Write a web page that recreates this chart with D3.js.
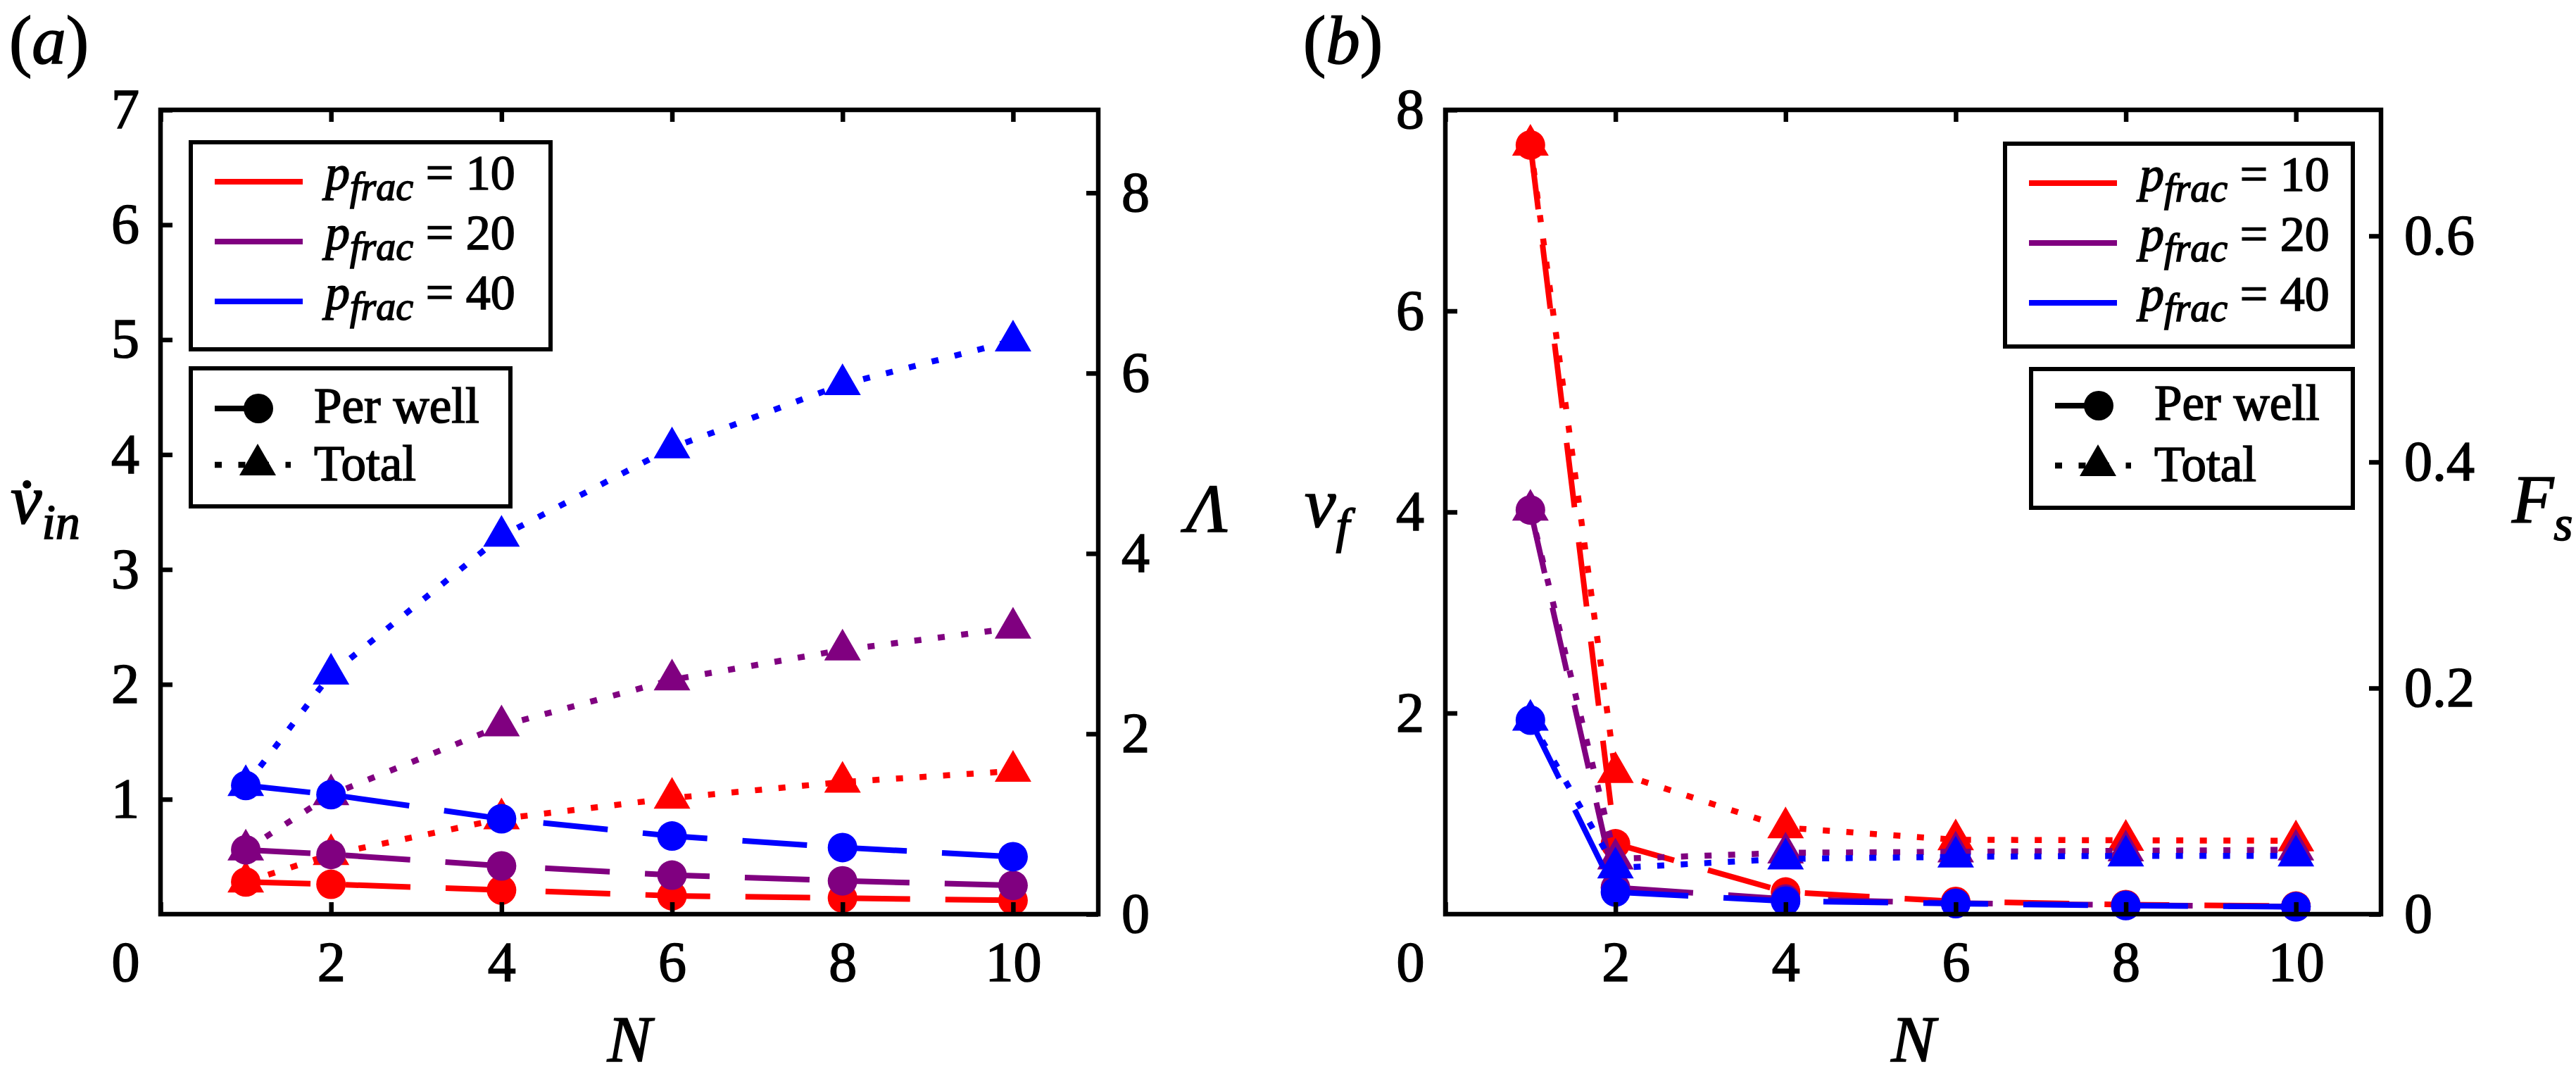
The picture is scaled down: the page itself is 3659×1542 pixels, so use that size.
<!DOCTYPE html>
<html>
<head>
<meta charset="utf-8">
<script src="https://cdn.jsdelivr.net/npm/d3@7"></script>
<style>
  body { margin: 0; background: #fff; }
  svg text { font-family: "Liberation Serif", "DejaVu Serif", serif !important; stroke: #000; stroke-width: 1.6px; }
</style>
</head>
<body>
<script>
var width = 3659
var height = 1542
var serif = '"Liberation Serif", "DejaVu Serif", serif'

// ---- data ----
var N = [1, 2, 4, 6, 8, 10]
var pfrac = [10, 20, 40]
var xTicks = [0, 2, 4, 6, 8, 10]

// (a) injection rate, per well and total
var vinPerWell10 = [0.28, 0.26, 0.21, 0.16, 0.14, 0.12]
var vinPerWell20 = [0.56, 0.52, 0.42, 0.34, 0.29, 0.25]
var vinPerWell40 = [1.12, 1.04, 0.83, 0.68, 0.58, 0.50]
var vinTotal10 = [0.28, 0.52, 0.83, 1.01, 1.15, 1.245]
var vinTotal20 = [0.56, 1.04, 1.64, 2.04, 2.30, 2.49]
var vinTotal40 = [1.12, 2.09, 3.29, 4.06, 4.61, 4.99]
var vinTicks = [1, 2, 3, 4, 5, 6, 7]
var lambdaTicks = [0, 2, 4, 6, 8]

// (b) fracture velocity, per well and total
var vfPerWell10 = [7.65, 0.70, 0.22, 0.126, 0.095, 0.08]
var vfPerWell20 = [4.02, 0.265, 0.15, 0.11, 0.09, 0.075]
var vfPerWell40 = [1.93, 0.22, 0.13, 0.105, 0.085, 0.073]
var vfTotal10 = [7.65, 1.41, 0.86, 0.74, 0.735, 0.73]
var vfTotal20 = [4.02, 0.55, 0.61, 0.62, 0.63, 0.64]
var vfTotal40 = [1.93, 0.46, 0.55, 0.57, 0.58, 0.58]
var vfTicks = [2, 4, 6, 8]
var fsTicks = [0, 0.2, 0.4, 0.6]

var colors = ["#ff0000", "#800080", "#0000ff"]

var top_ = 156
var bottom_ = 1298

var svg = d3.select("body")
            .append("svg")
            .attr("width", width)
            .attr("height", height)
            .style("font-family", serif)

// triangle marker, data point at its centroid
var triPath = "M0,-30L26,15L-26,15Z"

function styleAxis(sel, fontSize) {
  sel.attr("font-family", null).attr("font-size", null)
  sel.select(".domain").remove()
  sel.selectAll(".tick line").attr("stroke", "#000").attr("stroke-width", 6.5)
  sel.selectAll(".tick text")
     .attr("fill", "#000")
     .style("font-family", serif)
     .style("font-size", fontSize + "px")
}

function drawPanel(p) {
  var x = d3.scaleLinear().domain([0, 11]).range([p.left, p.right])
  var y = d3.scaleLinear().domain([0, p.yMax]).range([bottom_, top_])
  var y2 = d3.scaleLinear().domain([0, p.y2Max]).range([bottom_, top_])

  var g = svg.append("g")
  var line = d3.line().x(function(d){ return x(d[0]) }).y(function(d){ return y(d[1]) })

  // series, drawn red -> purple -> blue
  p.perWell.forEach(function(vals, i){
    var pw = N.map(function(n, j){ return [n, vals[j]] })
    var tot = N.map(function(n, j){ return [n, p.total[i][j]] })

    g.append("path")
      .attr("d", line(pw))
      .attr("fill", "none")
      .attr("stroke", colors[i])
      .attr("stroke-width", 8)
      .attr("stroke-dasharray", "92,50")
    g.selectAll(null)
      .data(pw)
      .enter()
      .append("circle")
      .attr("cx", function(d){ return x(d[0]) })
      .attr("cy", function(d){ return y(d[1]) })
      .attr("r", 21)
      .attr("fill", colors[i])

    g.append("path")
      .attr("d", line(tot))
      .attr("fill", "none")
      .attr("stroke", colors[i])
      .attr("stroke-width", 8.5)
      .attr("stroke-dasharray", "10,23.5")
    g.selectAll(null)
      .data(tot)
      .enter()
      .append("path")
      .attr("d", triPath)
      .attr("transform", function(d){ return "translate(" + x(d[0]) + "," + y(d[1]) + ")" })
      .attr("fill", colors[i])
  })

  // axes, ticks pointing inward
  var bx = g.append("g")
    .attr("transform", "translate(0," + bottom_ + ")")
    .call(d3.axisBottom(x).tickValues(xTicks).tickSizeInner(-17).tickSizeOuter(0)
            .tickPadding(38).tickFormat(d3.format("d")))
  styleAxis(bx, 80)
  bx.selectAll(".tick").filter(function(d){ return d === 0 }).select("text")
    .attr("x", -30).attr("text-anchor", "end")

  var tx = g.append("g")
    .attr("transform", "translate(0," + top_ + ")")
    .call(d3.axisTop(x).tickValues(xTicks).tickSizeInner(-17).tickSizeOuter(0).tickFormat(""))
  styleAxis(tx, 80)

  var ly = g.append("g")
    .attr("transform", "translate(" + p.left + ",0)")
    .call(d3.axisLeft(y).tickValues(p.leftTicks).tickSizeInner(-17).tickSizeOuter(0)
            .tickPadding(30).tickFormat(d3.format("d")))
  styleAxis(ly, 80)

  var ry = g.append("g")
    .attr("transform", "translate(" + p.right + ",0)")
    .call(d3.axisRight(y2).tickValues(p.rightTicks).tickSizeInner(-17).tickSizeOuter(0)
            .tickPadding(33).tickFormat(p.rightFormat))
  styleAxis(ry, 80)

  g.append("rect")
    .attr("x", p.left).attr("y", top_)
    .attr("width", p.right - p.left).attr("height", bottom_ - top_)
    .attr("fill", "none").attr("stroke", "#000").attr("stroke-width", 6.5)

  // labels
  var lab = g.append("text").attr("x", p.tag).attr("y", 90).attr("font-size", 97)
  lab.append("tspan").text("(")
  lab.append("tspan").style("font-style", "italic").text(p.tagText)
  lab.append("tspan").text(")")

  g.append("text")
    .attr("x", (p.left + p.right) / 2).attr("y", 1507)
    .attr("text-anchor", "middle").attr("font-size", 94)
    .style("font-style", "italic").text("N")

  var yl = g.append("text").attr("x", p.yLabel.x).attr("y", p.yLabel.y)
    .attr("font-size", 100).style("font-style", "italic")
  yl.append("tspan").text(p.yLabel.main)
  yl.append("tspan").attr("font-size", 70).attr("dy", 22).text(p.yLabel.sub)

  var y2l = g.append("text").attr("x", p.y2Label.x).attr("y", p.y2Label.y)
    .attr("font-size", 97).style("font-style", "italic")
  y2l.append("tspan").text(p.y2Label.main)
  if (p.y2Label.sub) y2l.append("tspan").attr("font-size", 70).attr("dy", 25).text(p.y2Label.sub)

  // legend 1: colours
  var L1 = p.legend1
  g.append("rect")
    .attr("x", L1.x).attr("y", L1.y).attr("width", L1.w).attr("height", L1.h)
    .attr("fill", "#fff").attr("stroke", "#000").attr("stroke-width", 6)
  pfrac.forEach(function(v, i){
    var cy = L1.y + 56 + i * 85
    g.append("line")
      .attr("x1", L1.x + 34).attr("x2", L1.x + 159)
      .attr("y1", cy).attr("y2", cy)
      .attr("stroke", colors[i]).attr("stroke-width", 8)
    var t = g.append("text").attr("x", L1.x + 191).attr("y", cy + 11).attr("font-size", 70)
    t.append("tspan").style("font-style", "italic").text("p")
    t.append("tspan").style("font-style", "italic").attr("font-size", 56).attr("dy", 15).text("frac")
    t.append("tspan").attr("dy", -15).text(" = " + v)
  })

  // legend 2: line styles
  var L2 = p.legend2
  g.append("rect")
    .attr("x", L2.x).attr("y", L2.y).attr("width", L2.w).attr("height", L2.h)
    .attr("fill", "#fff").attr("stroke", "#000").attr("stroke-width", 6)
  var c1 = L2.y + L2.r1
  var c2 = L2.y + 137
  g.append("line")
    .attr("x1", L2.x + 34).attr("x2", L2.x + 96)
    .attr("y1", c1).attr("y2", c1)
    .attr("stroke", "#000").attr("stroke-width", 8)
  g.append("circle").attr("cx", L2.x + 96).attr("cy", c1).attr("r", 21).attr("fill", "#000")
  g.append("text").attr("x", L2.x + 175).attr("y", c1 + 20).attr("font-size", 71).text("Per well")
  g.append("line")
    .attr("x1", L2.x + 34).attr("x2", L2.x + 142)
    .attr("y1", c2).attr("y2", c2)
    .attr("stroke", "#000").attr("stroke-width", 8.5).attr("stroke-dasharray", "10,23.5")
  g.append("path").attr("d", triPath)
    .attr("transform", "translate(" + (L2.x + 95) + "," + c2 + ")")
    .attr("fill", "#000")
  g.append("text").attr("x", L2.x + 175).attr("y", c2 + 22).attr("font-size", 71).text("Total")
}

drawPanel({
  left: 228, right: 1560,
  yMax: 7, y2Max: 8.92,
  perWell: [vinPerWell10, vinPerWell20, vinPerWell40],
  total: [vinTotal10, vinTotal20, vinTotal40],
  leftTicks: vinTicks, rightTicks: lambdaTicks,
  rightFormat: d3.format("d"),
  tag: 13, tagText: "a",
  yLabel: { x: 15, y: 743, main: "v\u0307", sub: "in" },
  y2Label: { x: 1685, y: 755, main: "\u039B", sub: "" },
  legend1: { x: 271, y: 202, w: 511, h: 294 },
  legend2: { x: 271, y: 523, w: 454, h: 196, r1: 57 }
})

drawPanel({
  left: 2053, right: 3382,
  yMax: 8, y2Max: 0.7115,
  perWell: [vfPerWell10, vfPerWell20, vfPerWell40],
  total: [vfTotal10, vfTotal20, vfTotal40],
  leftTicks: vfTicks, rightTicks: fsTicks,
  rightFormat: function(v){ return v === 0 ? "0" : d3.format(".1f")(v) },
  tag: 1851, tagText: "b",
  yLabel: { x: 1853, y: 748, main: "v", sub: "f" },
  y2Label: { x: 3568, y: 742, main: "F", sub: "s" },
  legend1: { x: 2848, y: 204, w: 494, h: 288 },
  legend2: { x: 2885, y: 524, w: 457, h: 197, r1: 52 }
})
</script>
</body>
</html>
